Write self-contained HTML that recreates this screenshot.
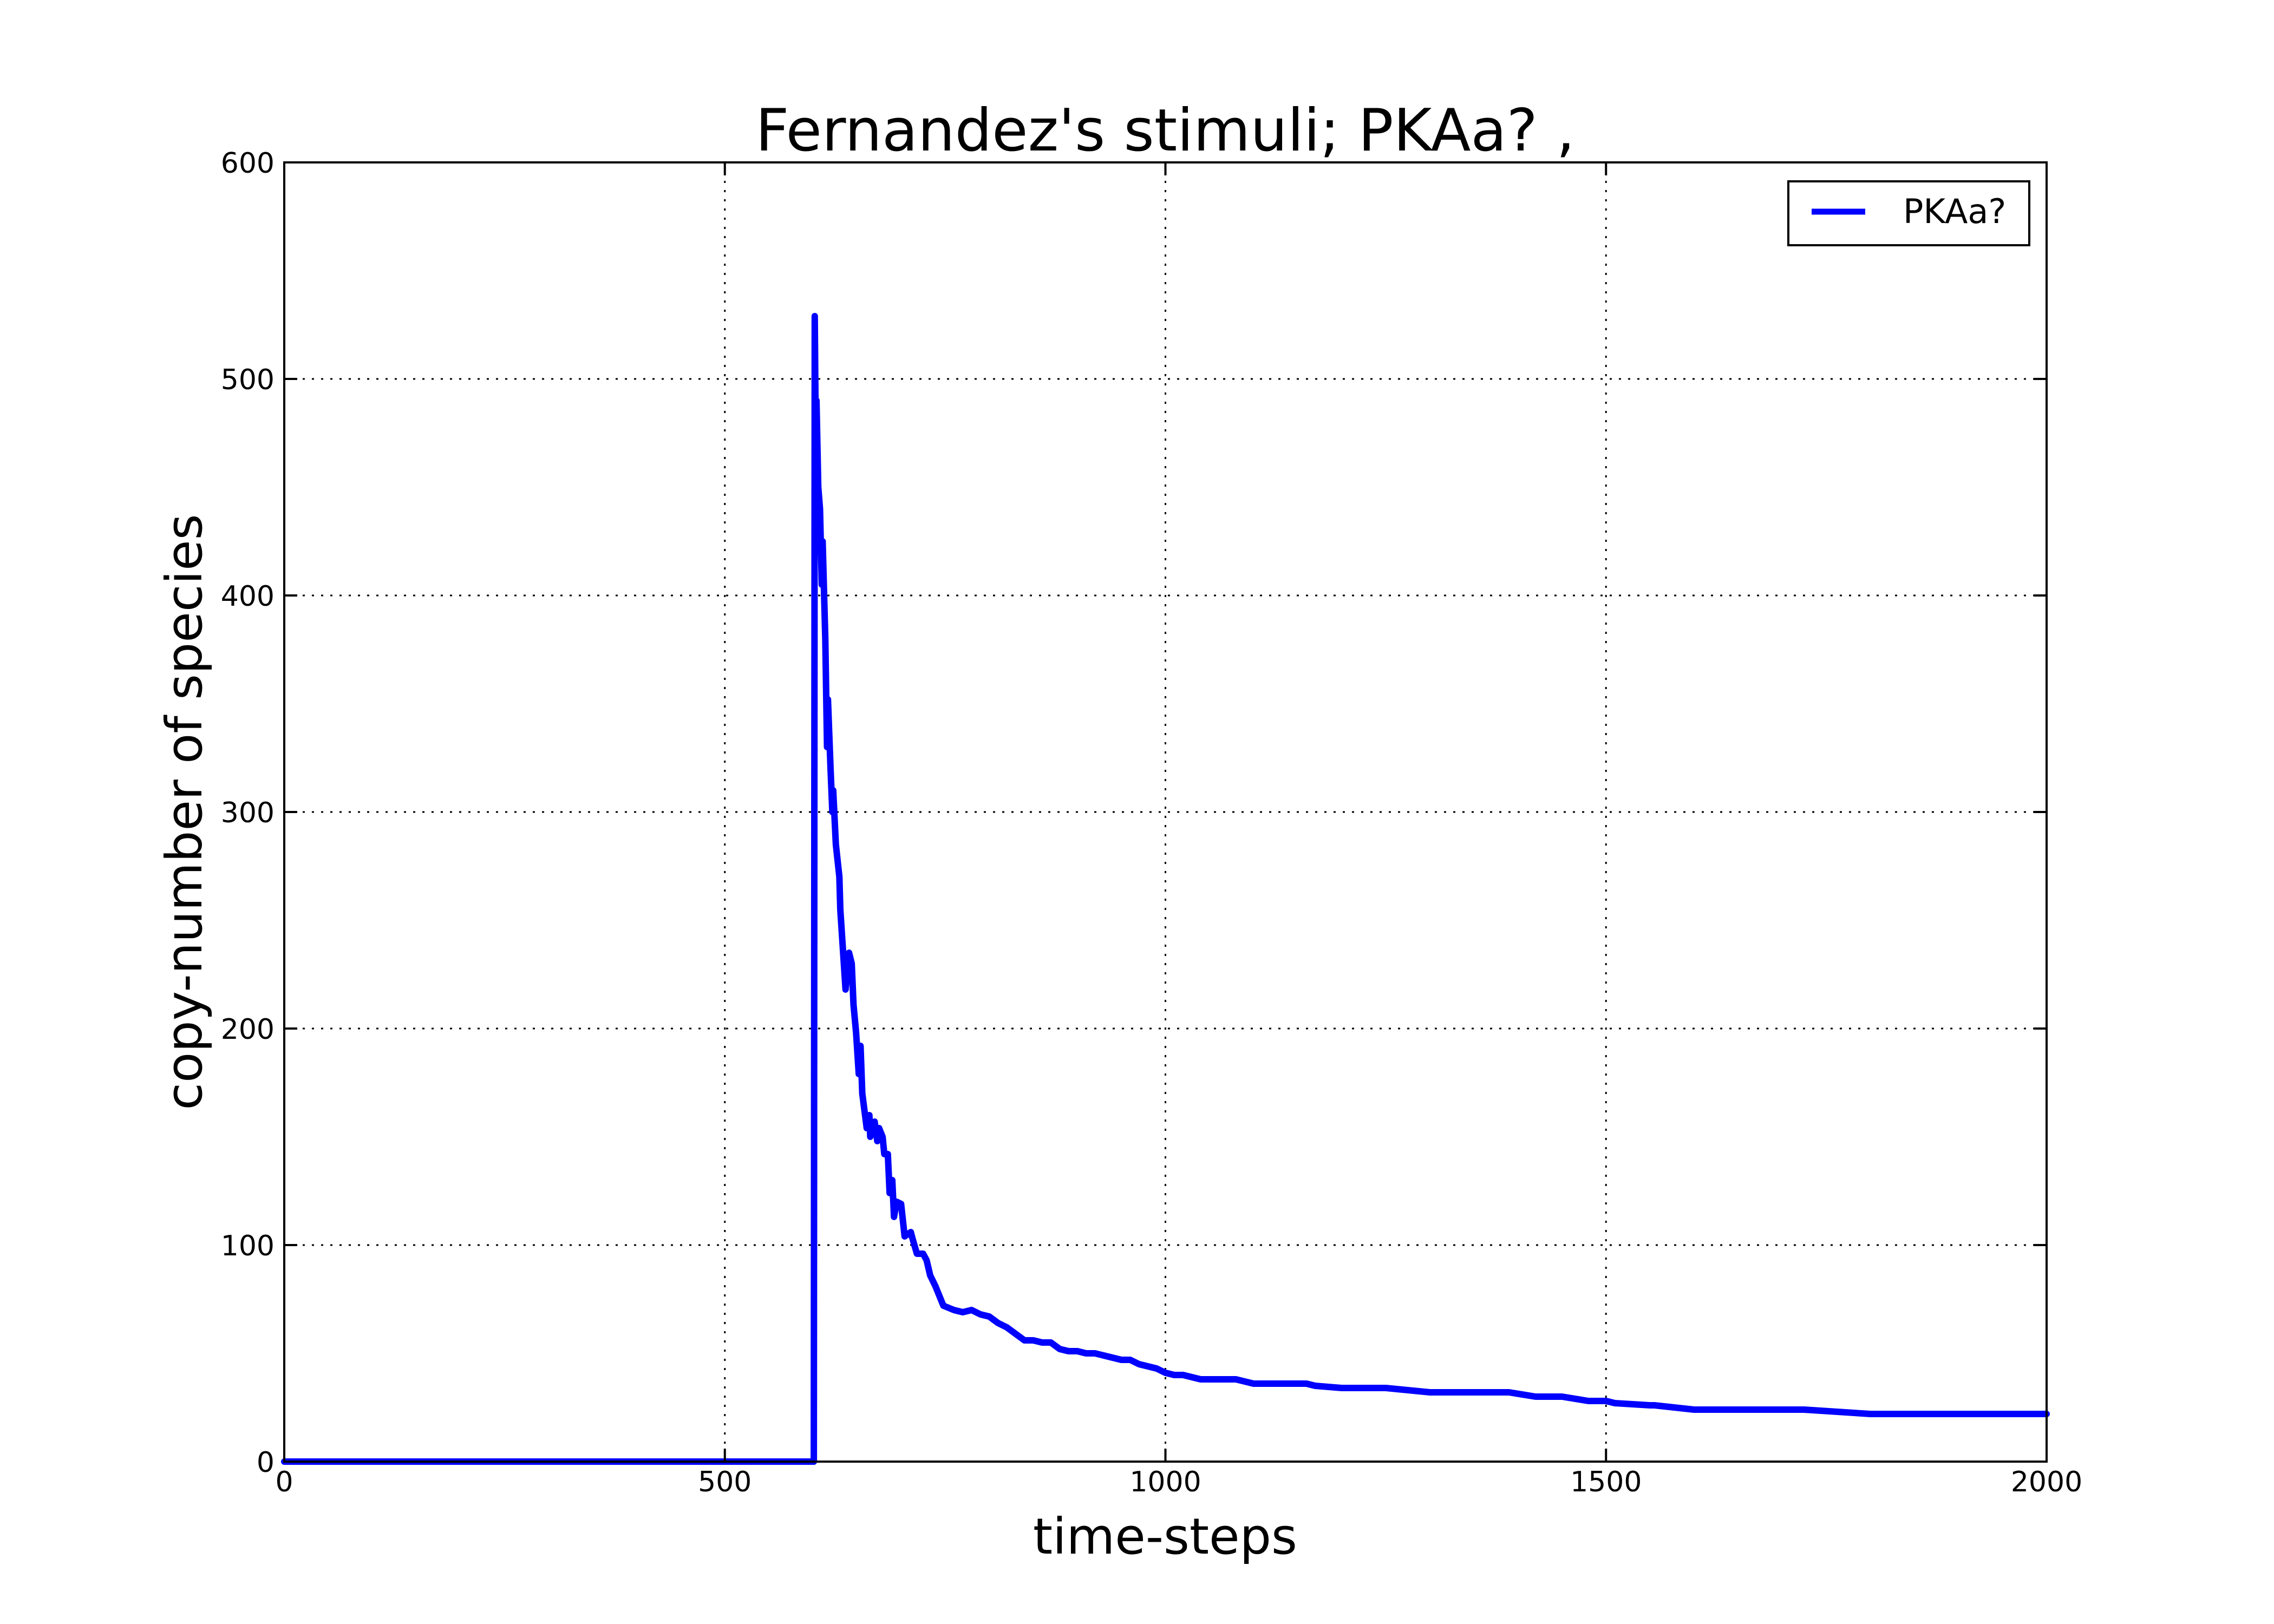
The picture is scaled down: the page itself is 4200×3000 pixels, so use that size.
<!DOCTYPE html>
<html><head><meta charset="utf-8"><style>
html,body{margin:0;padding:0;background:#fff;}
svg{display:block;font-family:"DejaVu Sans","Liberation Sans",sans-serif;}
</style></head><body>
<svg id="chart" width="4200" height="3000" viewBox="0 0 4200 3000">
<rect x="0" y="0" width="4200" height="3000" fill="#fff"/>
<text x="2152" y="278" font-size="108" text-anchor="middle">Fernandez's stimuli; PKAa? ,</text>
<g id="grid"></g>
<g id="series"></g>
<rect x="525" y="300" width="3255" height="2400" fill="none" stroke="#000" stroke-width="4"/>
<g id="ticks"></g>
<text x="2152" y="2870" font-size="92" text-anchor="middle">time-steps</text>
<text transform="translate(372,1500) rotate(-90)" font-size="92" text-anchor="middle">copy-number of species</text>
<g>
<rect x="3303" y="335" width="445" height="118" fill="#fff" stroke="#000" stroke-width="4"/>
<line x1="3346" y1="391" x2="3445" y2="391" stroke="#0000ff" stroke-width="11"/>
<text x="3515" y="412" font-size="62">PKAa?</text>
</g>
</svg>
<script>
const xTicks=[0,500,1000,1500,2000];
const yTicks=[0,100,200,300,400,500,600];
const times=[0,599,601,602,603,604,606,608,610,611,614,616,617,620,622,623,626,630,631,637,641,644,646,649,652,654,656,661,664,665,670,673,675,679,681,685,687,690,692,695,700,704,711,713,718,725,729,733,739,748,760,770,780,790,800,810,820,830,840,850,860,870,880,890,900,910,920,930,940,950,960,970,980,990,1000,1010,1020,1040,1060,1080,1100,1120,1140,1160,1170,1200,1240,1250,1300,1350,1380,1390,1420,1440,1450,1480,1500,1510,1550,1555,1600,1650,1700,1720,1725,1800,1900,2000];
const counts=[0,0,0,529,480,490,450,440,405,425,380,330,352,320,300,310,285,270,255,218,235,230,211,198,179,192,170,154,160,150,157,148,154,150,142,142,124,130,113,120,119,104,106,103,96,96,93,86,81,72,70,69,70,68,67,64,62,59,56,56,55,55,52,51,51,50,50,49,48,47,47,45,44,43,41,40,40,38,38,38,36,36,36,36,35,34,34,34,32,32,32,32,30,30,30,28,28,27,26,26,24,24,24,24,24,22,22,22,22];
const NS='http://www.w3.org/2000/svg';
const L=525,R=3780,T=300,B=2700;
function xs(v){return L+(v-0)/(2000-0)*(R-L);}
function ys(v){return B-(v-0)/(600-0)*(B-T);}
function mk(tag,attrs,parent){const e=document.createElementNS(NS,tag);for(const k in attrs)e.setAttribute(k,attrs[k]);parent.appendChild(e);return e;}
const grid=document.getElementById('grid'),ticks=document.getElementById('ticks'),series=document.getElementById('series');
xTicks.forEach(v=>{
  const x=xs(v);
  if(v>0&&v<2000){const g=mk('line',{x1:x,y1:T,x2:x,y2:B,stroke:'#000','stroke-width':3,'stroke-dasharray':'4 13'},grid);
  
  }
  const t1=mk('line',{x1:x,y1:B,x2:x,y2:B-24,stroke:'#000','stroke-width':4},ticks);
  
  
  const t2=mk('line',{x1:x,y1:T,x2:x,y2:T+24,stroke:'#000','stroke-width':4},ticks);
  
  
  const lb=mk('text',{x:x,y:2755,'font-size':52,'text-anchor':'middle'},ticks);
  lb.textContent=v;
  
  
});
yTicks.forEach(v=>{
  const y=ys(v);
  if(v>0&&v<600){const g=mk('line',{x1:L,y1:y,x2:R,y2:y,stroke:'#000','stroke-width':3,'stroke-dasharray':'4 13'},grid);
  
  }
  const t1=mk('line',{x1:L,y1:y,x2:L+24,y2:y,stroke:'#000','stroke-width':4},ticks);
  
  
  const t2=mk('line',{x1:R,y1:y,x2:R-24,y2:y,stroke:'#000','stroke-width':4},ticks);
  
  
  const lb=mk('text',{x:507,y:y+19,'font-size':52,'text-anchor':'end'},ticks);
  lb.textContent=v;
  
  
});
const pts=times.map((t,i)=>xs(t).toFixed(1)+','+ys(counts[i]).toFixed(1)).join(' ');
const pl=mk('polyline',{points:pts,fill:'none',stroke:'#0000ff','stroke-width':12,'stroke-linejoin':'round','stroke-linecap':'round'},series);


</script>
</body></html>
